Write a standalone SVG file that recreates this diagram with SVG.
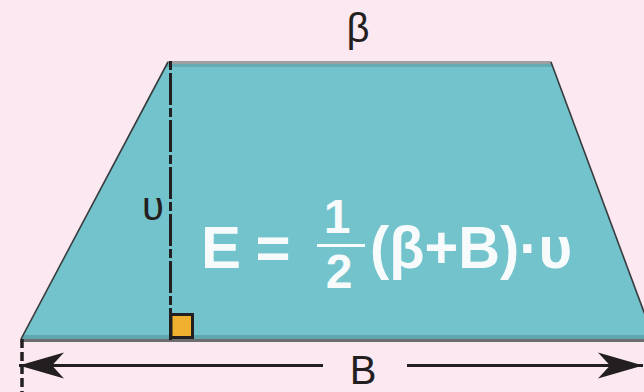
<svg xmlns="http://www.w3.org/2000/svg" width="644" height="392" viewBox="0 0 644 392">
<style>
.lbl{font-family:"Liberation Sans",Arial,sans-serif;fill:#231f20}
.f{font-family:"Liberation Sans",Arial,sans-serif;font-weight:bold;fill:#f7fbfb}
.dk{stroke:#231f20;fill:none}
</style>
<defs>
<clipPath id="trap"><polygon points="168,61 551,61 655,342 20,342"/></clipPath>
<marker id="ah" markerUnits="userSpaceOnUse" markerWidth="60" markerHeight="40" viewBox="-50 -20 60 40" refX="0" refY="0" orient="auto-start-reverse">
<path d="M0,0 L-45,-13 L-33,0 L-45,13 Z" fill="#231f20"/>
</marker>
</defs>
<rect width="644" height="392" fill="#fce8f1"/>
<g id="trapezoid">
<polygon points="168,61 551,61 655,342 20,342" fill="#73c3cc"/>
<g clip-path="url(#trap)">
<rect x="0" y="61" width="660" height="3" fill="#9c9ea2"/>
<rect x="0" y="64" width="660" height="3" fill="#64abb3"/>
<rect x="0" y="335" width="660" height="4" fill="#5ea7ae"/>
<rect x="0" y="339" width="660" height="3" fill="#6d6d70"/>
</g>
<line x1="168" y1="62" x2="21" y2="339" stroke="#383c3e" stroke-width="1.6"/>
<line x1="551" y1="62" x2="654" y2="339" stroke="#383c3e" stroke-width="1.6"/>
</g>
<g id="height">
<line class="dk" x1="170.5" y1="61" x2="170.5" y2="341" stroke-width="3" stroke-dasharray="9 3 32 3"/>
<rect x="171" y="314.5" width="21.5" height="23" fill="#efb02f" stroke="#231f20" stroke-width="3"/>
<text class="lbl" x="153" y="220" font-size="40" text-anchor="middle">υ</text>
</g>
<g id="connectors">
<line class="dk" x1="22" y1="339" x2="22" y2="392" stroke-width="3.5" stroke-dasharray="9 4"/>
<line class="dk" x1="19" y1="365.5" x2="323" y2="365.5" stroke-width="3" marker-start="url(#ah)"/>
<line class="dk" x1="407" y1="365.5" x2="643" y2="365.5" stroke-width="3" marker-end="url(#ah)"/>
</g>
<g id="labels">
<text class="lbl" x="358" y="42" font-size="40" text-anchor="middle">β</text>
<text class="lbl" x="363" y="384" font-size="40" text-anchor="middle">B</text>
</g>
<g id="formula">
<text class="f" x="201" y="268" font-size="60">E</text>
<text class="f" x="273" y="268" font-size="60" text-anchor="middle">=</text>
<text class="f" x="337" y="233" font-size="48" text-anchor="middle">1</text>
<rect x="317" y="244" width="48" height="3" fill="#f7fbfb"/>
<text class="f" x="339" y="288" font-size="48" text-anchor="middle">2</text>
<text class="f" x="370" y="268" font-size="60" textLength="202" lengthAdjust="spacingAndGlyphs">(β+B)·υ</text>
</g>
</svg>
